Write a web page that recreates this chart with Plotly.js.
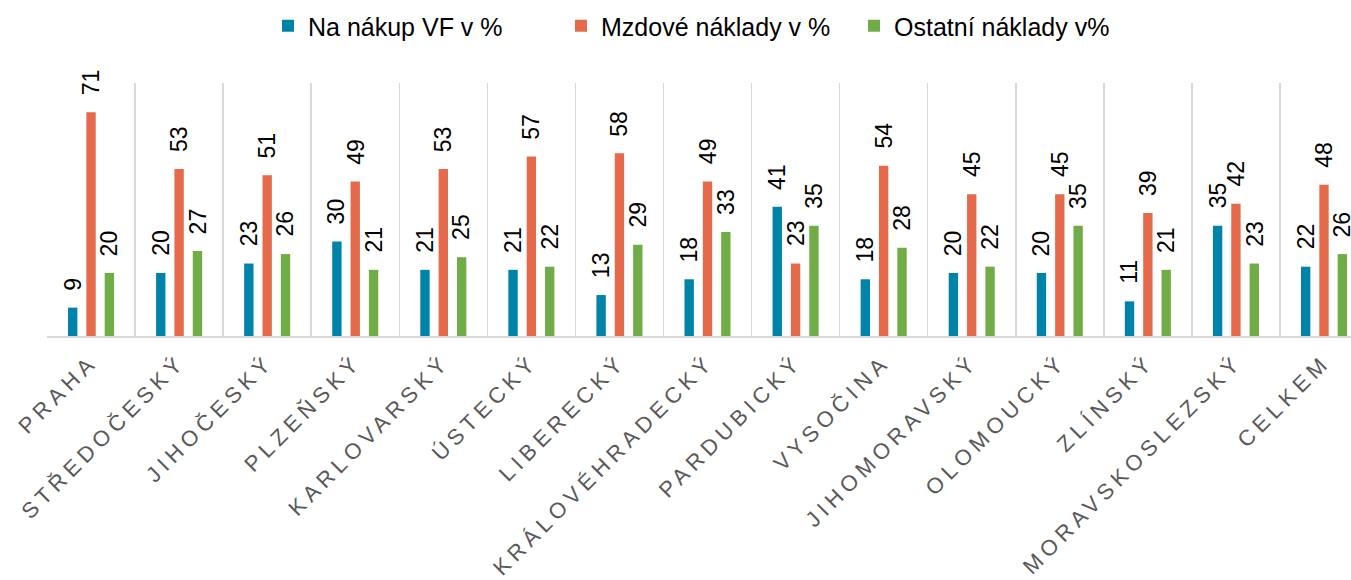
<!DOCTYPE html>
<html>
<head>
<meta charset="utf-8">
<script src="https://cdn.plot.ly/plotly-3.0.1.min.js"></script>
<style>
  html, body { margin: 0; padding: 0; background: #fff; }
  #chart { width: 1351px; height: 580px; }
  .xtick text { letter-spacing: 5px; }
</style>
</head>
<body>
<div id="chart"></div>
<script>
const categories = ["PRAHA", "STŘEDOČESKÝ", "JIHOČESKÝ", "PLZEŇSKÝ", "KARLOVARSKÝ", "ÚSTECKÝ", "LIBERECKÝ", "KRÁLOVÉHRADECKÝ", "PARDUBICKÝ", "VYSOČINA", "JIHOMORAVSKÝ", "OLOMOUCKÝ", "ZLÍNSKÝ", "MORAVSKOSLEZSKÝ", "CELKEM"];
const seriesNames = ["Na nákup VF v %", "Mzdové náklady v %", "Ostatní náklady v%"];
const nakupVF = [9, 20, 23, 30, 21, 21, 13, 18, 41, 18, 20, 20, 11, 35, 22];
const mzdove = [71, 53, 51, 49, 53, 57, 58, 49, 23, 54, 45, 45, 39, 42, 48];
const ostatni = [20, 27, 26, 21, 25, 22, 29, 33, 35, 28, 22, 35, 21, 23, 26];
const seriesValues = [nakupVF, mzdove, ostatni];
const colors = ["#0083a9", "#e5694b", "#70ad47"];

const plotLeft = 47, plotWidth = 1304, catWidth = 88.07;
const bargap = 0.375;
const slot = catWidth * (1 - bargap) / 3;

const traces = seriesValues.map((vals, i) => ({
  type: "bar",
  name: seriesNames[i],
  x: categories,
  y: vals,
  marker: { color: colors[i] },
  hoverinfo: "x+y+name"
}));

const annotations = [];
seriesValues.forEach((vals, i) => {
  vals.forEach((v, j) => {
    annotations.push({
      x: categories[j], y: v, xref: "x", yref: "y",
      text: String(v), showarrow: false, borderpad: 0,
      textangle: -90, xanchor: "center", yanchor: "bottom",
      xshift: (i - 1) * slot, yshift: 16,
      font: { family: "Arial, Liberation Sans, sans-serif", size: 23, color: "#000" }
    });
  });
});

const layout = {
  width: 1351, height: 580,
  margin: { l: plotLeft, r: 0, t: 83, b: 244, pad: 0 },
  paper_bgcolor: "#fff", plot_bgcolor: "#fff",
  barmode: "group", bargap: bargap, bargroupgap: 0.49,
  font: { family: "Arial, Liberation Sans, sans-serif" },
  showlegend: true,
  legend: {
    orientation: "h", x: 268 / 1351, xanchor: "left", y: 1 - 26 / 580, yanchor: "middle",
    yref: "container", xref: "container",
    font: { size: 25, color: "#000" }, itemwidth: 30, traceorder: "normal",
    entrywidth: 248, entrywidthmode: "pixels"
  },
  xaxis: {
    type: "category",
    range: [-0.5, -0.5 + plotWidth / catWidth],
    tickson: "boundaries", showgrid: true, gridcolor: "#d9d9d9", gridwidth: 1.5,
    showline: true, linecolor: "#d9d9d9", linewidth: 1.5,
    ticks: "", tickangle: -45, ticklabelstandoff: 3,
    tickfont: { size: 22, color: "#595959" }
  },
  yaxis: {
    range: [0, 80.3], showgrid: false, zeroline: false, showticklabels: false, ticks: "", showline: false
  },
  annotations: annotations
};

Plotly.newPlot("chart", traces, layout, { displayModeBar: false, staticPlot: true });
</script>
</body>
</html>
